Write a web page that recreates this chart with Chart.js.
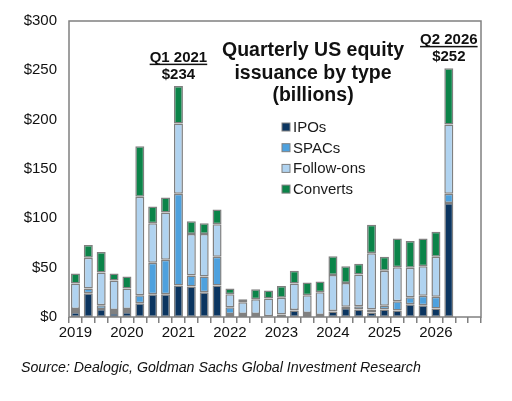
<!DOCTYPE html>
<html>
<head>
<meta charset="utf-8">
<script src="https://cdn.jsdelivr.net/npm/chart.js@4"></script>
<style>
  html, body { margin: 0; padding: 0; background: #fff; }
</style>
</head>
<body>
<canvas id="issuanceChart" width="512" height="401"></canvas>
<script>
// =============== Data
const quarters = [
    '2019 Q1', '2019 Q2', '2019 Q3', '2019 Q4',
    '2020 Q1', '2020 Q2', '2020 Q3', '2020 Q4',
    '2021 Q1', '2021 Q2', '2021 Q3', '2021 Q4',
    '2022 Q1', '2022 Q2', '2022 Q3', '2022 Q4',
    '2023 Q1', '2023 Q2', '2023 Q3', '2023 Q4',
    '2024 Q1', '2024 Q2', '2024 Q3', '2024 Q4',
    '2025 Q1', '2025 Q2', '2025 Q3', '2025 Q4',
    '2026 Q1', '2026 Q2', '2026 Q3', '2026 Q4'
];
const ipos       = [5, 24, 8, 4, 5, 14, 23, 23, 32, 31, 25, 32, 3, 1, 1, 0.5, 1, 6.5, 2, 1, 5.5, 9, 7.5, 4.5, 7.5, 6.5, 13, 12, 8.5, 115.5];
const spacs      = [3, 5, 4, 3, 3, 8, 32, 35, 93, 11, 16, 29, 7, 2, 2, 0.3, 1.5, 0.5, 2, 1, 0.5, 1.5, 3.5, 3, 4, 9.5, 7, 9.5, 12, 9.5];
const followOns  = [26, 31, 33, 30, 21, 100, 40, 48, 71, 42, 43, 33, 13, 12, 15, 18, 17, 27, 18, 23, 36.5, 24, 32, 57, 35.5, 34.5, 30, 30, 40.5, 70];
const converts   = [10, 13, 21, 7, 12, 51, 17, 15, 38, 13, 11, 15, 6, 3, 10, 8, 12, 13, 13, 11, 19, 17, 11, 29, 14, 29, 27, 28, 25.5, 57];
const yTicks     = [0, 50, 100, 150, 200, 250, 300];

const seriesNames  = ['IPOs', 'SPACs', 'Follow-ons', 'Converts'];
const seriesColors = ['#0b3560', '#4ea1de', '#b0d3f0', '#0b8449'];

// quarters that get a callout above the bar
const callouts = [
    { label: 'Q1 2021', index: 8 },
    { label: 'Q2 2026', index: 29 }
];

const titleLines = ['Quarterly US equity', 'issuance by type', '(billions)'];
const sourceText = 'Source: Dealogic, Goldman Sachs Global Investment Research';

const FONT = '"Liberation Sans", Arial, sans-serif';
const GREY = '#808080';

// =============== Texts, legend and frame drawn on top
const decor = {
    id: 'decor',
    afterDraw(chart) {
        const ctx = chart.ctx;
        const area = chart.chartArea;
        const xs = chart.scales.x;
        const ys = chart.scales.y;
        ctx.save();

        // plot frame
        ctx.strokeStyle = GREY;
        ctx.lineWidth = 1.5;
        ctx.strokeRect(area.left, area.top, area.right - area.left, area.bottom - area.top);

        // title
        ctx.fillStyle = '#111';
        ctx.textAlign = 'center';
        ctx.textBaseline = 'alphabetic';
        ctx.font = 'bold 19.5px ' + FONT;
        titleLines.forEach((line, i) => ctx.fillText(line, 313, 56 + i * 22.5));

        // callouts
        callouts.forEach(c => {
            const total = chart.data.datasets.reduce((s, ds) => s + ds.data[c.index], 0);
            const x = xs.getPixelForValue(c.index);
            const yTop = ys.getPixelForValue(total);
            ctx.font = 'bold 15px ' + FONT;
            ctx.fillText(c.label, x, yTop - 24);
            const w = ctx.measureText(c.label).width;
            ctx.fillRect(x - w / 2, yTop - 22.5, w, 1.5);
            ctx.fillText('$' + Math.round(total), x, yTop - 7);
        });

        // legend
        ctx.textAlign = 'left';
        ctx.font = '15px ' + FONT;
        seriesNames.forEach((name, i) => {
            const y = 132 + i * 20.7;
            ctx.fillStyle = seriesColors[i];
            ctx.fillRect(282, y - 9, 8, 8);
            ctx.strokeStyle = GREY;
            ctx.lineWidth = 1;
            ctx.strokeRect(282, y - 9, 8, 8);
            ctx.fillStyle = '#1a1a1a';
            ctx.fillText(name, 293, y);
        });

        // source
        ctx.font = 'italic 14.2px ' + FONT;
        ctx.fillStyle = '#111';
        ctx.fillText(sourceText, 21, 372);

        ctx.restore();
    }
};

// =============== Stacked bars
const chart_el = document.getElementById('issuanceChart');
const seriesData = [ipos, spacs, followOns, converts];

new Chart(chart_el, {
    type: 'bar',
    data: {
        labels: quarters,
        datasets: seriesNames.map((name, i) => ({
            label: name,
            data: seriesData[i],
            backgroundColor: seriesColors[i],
            borderColor: GREY,
            borderWidth: 1.5,
            borderSkipped: false,
            barPercentage: 0.7,
            categoryPercentage: 1
        }))
    },
    options: {
        responsive: false,
        animation: false,
        layout: { padding: { top: 16, right: 31, left: 0, bottom: 0 } },
        plugins: {
            legend: { display: false },
            tooltip: { enabled: false }
        },
        scales: {
            x: {
                stacked: true,
                afterFit: scale => { scale.height = 84; },
                grid: {
                    display: true,
                    drawOnChartArea: false,
                    drawTicks: true,
                    tickLength: 6,
                    color: GREY,
                    lineWidth: 1.5,
                    offset: true
                },
                border: { display: false },
                ticks: {
                    autoSkip: false,
                    maxRotation: 0,
                    padding: 1,
                    color: '#111',
                    font: { family: FONT, size: 15 },
                    callback: function (value) {
                        const lbl = this.getLabelForValue(value);
                        return lbl.endsWith('Q1') ? lbl.slice(0, 4) : '';
                    }
                }
            },
            y: {
                stacked: true,
                min: 0,
                max: 300,
                afterFit: scale => { scale.width = 69; },
                afterBuildTicks: scale => { scale.ticks = yTicks.map(v => ({ value: v })); },
                grid: { display: false, drawTicks: false },
                border: { display: false },
                ticks: {
                    padding: 12,
                    color: '#111',
                    font: { family: FONT, size: 15 },
                    callback: v => '$' + v
                }
            }
        }
    },
    plugins: [decor]
});
</script>
</body>
</html>
